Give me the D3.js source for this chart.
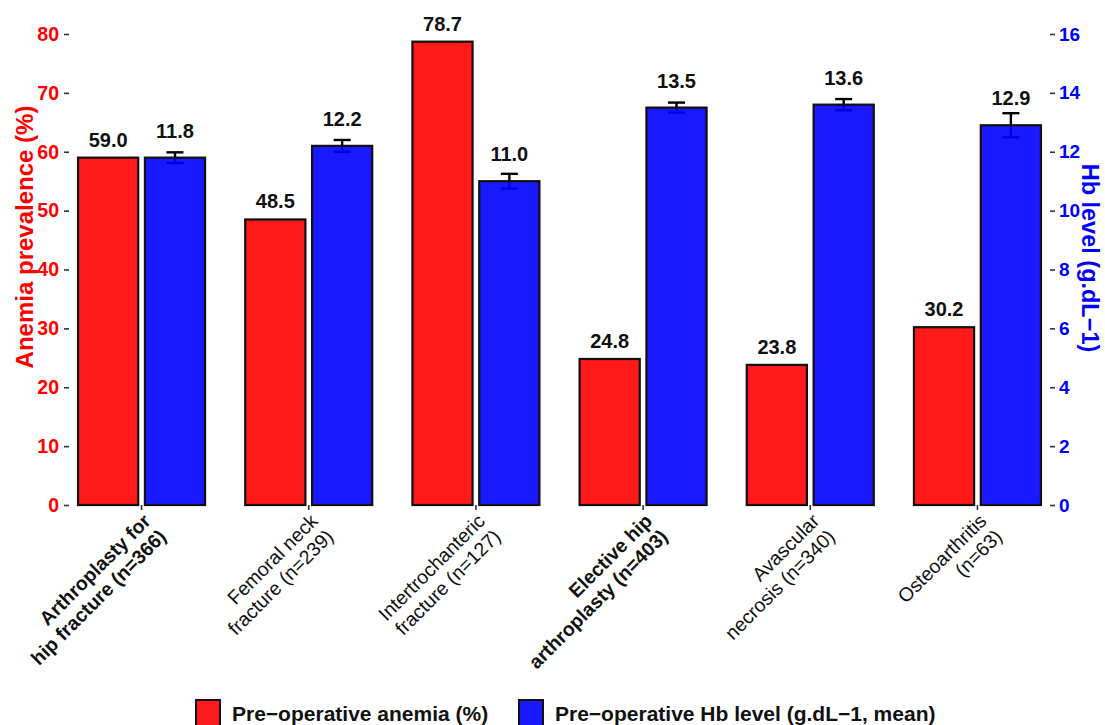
<!DOCTYPE html>
<html>
<head>
<meta charset="utf-8">
<script src="https://cdn.jsdelivr.net/npm/d3@7"></script>
<style>
  html, body { margin: 0; padding: 0; background: #fff; }
  svg { display: block; font-family: "Liberation Sans", Arial, Helvetica, sans-serif; }
</style>
</head>
<body>
<svg id="chart" width="1105" height="725"></svg>
<script>
// Surgical groups (two-line labels; bold = subgroup totals)
const categories = [
  "Arthroplasty for hip fracture (n=366)",
  "Femoral neck fracture (n=239)",
  "Intertrochanteric fracture (n=127)",
  "Elective hip arthroplasty (n=403)",
  "Avascular necrosis (n=340)",
  "Osteoarthritis (n=63)"
];
const categoryLines = [
  ["Arthroplasty for", "hip fracture (n=366)"],
  ["Femoral neck", "fracture (n=239)"],
  ["Intertrochanteric", "fracture (n=127)"],
  ["Elective hip", "arthroplasty (n=403)"],
  ["Avascular", "necrosis (n=340)"],
  ["Osteoarthritis", "(n=63)"]
];
const categoryBold = [true, false, false, true, false, false];

// Pre-operative anemia prevalence (%)
const anemiaPct = [59.0, 48.5, 78.7, 24.8, 23.8, 30.2];
// Pre-operative Hb level (g/dL, mean) and error half-width
const hbMean = [11.8, 12.2, 11.0, 13.5, 13.6, 12.9];
const hbErr = [0.18, 0.2, 0.25, 0.17, 0.19, 0.41];

const leftTicks = [0, 10, 20, 30, 40, 50, 60, 70, 80];
const rightTicks = [0, 2, 4, 6, 8, 10, 12, 14, 16];
const seriesKeys = ["anemia", "hb"];
const seriesNames = ["Pre\u2212operative anemia (%)", "Pre\u2212operative Hb level (g.dL\u22121, mean)"];

const RED = "#FF0000", BLUE = "#0000FF";

const svg = d3.select("#chart");
const panel = { left: 70, right: 1049, top: 34, bottom: 505 };

const x = d3.scalePoint().domain(categories).range([panel.left, panel.right]).padding(0.428);
const sub = d3.scaleBand().domain(seriesKeys).range([-63.5, 63.5]).paddingInner(0.1);
const yL = d3.scaleLinear().domain([0, 80]).range([panel.bottom, panel.top]);
const yR = d3.scaleLinear().domain([0, 16]).range([panel.bottom, panel.top]);

const rows = categories.map((c, i) => ({
  cat: c, i, anemia: anemiaPct[i], hb: hbMean[i], err: hbErr[i]
}));

// Left axis
const gL = svg.append("g")
  .attr("transform", `translate(${panel.left},0)`)
  .call(d3.axisLeft(yL).tickValues(leftTicks).tickSize(5).tickPadding(6));
gL.select(".domain").remove();
gL.selectAll(".tick line").attr("stroke", "#333").attr("stroke-width", 1.6).attr("transform", "translate(-1,0)");
gL.selectAll(".tick text").attr("fill", RED).attr("font-weight", "bold").attr("font-size", 19.5)
  .attr("font-family", "Liberation Sans, Arial, sans-serif");

// Right axis
const gR = svg.append("g")
  .attr("transform", `translate(${panel.right},0)`)
  .call(d3.axisRight(yR).tickValues(rightTicks).tickSize(5).tickPadding(5));
gR.select(".domain").remove();
gR.selectAll(".tick line").attr("stroke", "#333").attr("stroke-width", 1.6).attr("transform", "translate(1,0)");
gR.selectAll(".tick text").attr("fill", BLUE).attr("font-weight", "bold").attr("font-size", 19)
  .attr("font-family", "Liberation Sans, Arial, sans-serif");

// X ticks
svg.append("g").selectAll("line").data(rows).join("line")
  .attr("x1", d => x(d.cat)).attr("x2", d => x(d.cat))
  .attr("y1", panel.bottom).attr("y2", panel.bottom + 5)
  .attr("stroke", "#333").attr("stroke-width", 1.6);

// Error bars (drawn under the translucent Hb bars)
const eb = svg.append("g").attr("stroke", "#000").attr("stroke-width", 2.4);
rows.forEach(d => {
  const cx = x(d.cat) + sub("hb") + sub.bandwidth() / 2;
  const y0 = yR(d.hb - d.err), y1 = yR(d.hb + d.err);
  eb.append("line").attr("x1", cx).attr("x2", cx).attr("y1", y0).attr("y2", y1);
  eb.append("line").attr("x1", cx - 8.5).attr("x2", cx + 8.5).attr("y1", y0).attr("y2", y0);
  eb.append("line").attr("x1", cx - 8.5).attr("x2", cx + 8.5).attr("y1", y1).attr("y2", y1);
});

// Bars
const bars = svg.append("g");
bars.selectAll("rect.anemia").data(rows).join("rect")
  .attr("class", "anemia")
  .attr("x", d => x(d.cat) + sub("anemia"))
  .attr("width", sub.bandwidth())
  .attr("y", d => yL(d.anemia))
  .attr("height", d => yL(0) - yL(d.anemia))
  .attr("fill", RED).attr("fill-opacity", 0.9)
  .attr("stroke", "#111").attr("stroke-width", 2.2);
bars.selectAll("rect.hb").data(rows).join("rect")
  .attr("class", "hb")
  .attr("x", d => x(d.cat) + sub("hb"))
  .attr("width", sub.bandwidth())
  .attr("y", d => yR(d.hb))
  .attr("height", d => yR(0) - yR(d.hb))
  .attr("fill", BLUE).attr("fill-opacity", 0.9)
  .attr("stroke", "#111").attr("stroke-width", 2.2);

// Value labels
const lbl = svg.append("g").attr("font-weight", "bold").attr("font-size", 20)
  .attr("text-anchor", "middle").attr("fill", "#111");
lbl.selectAll("text.a").data(rows).join("text").attr("class", "a")
  .attr("x", d => x(d.cat) + sub("anemia") + sub.bandwidth() / 2)
  .attr("y", d => yL(d.anemia) - 11)
  .text(d => d.anemia.toFixed(1));
lbl.selectAll("text.h").data(rows).join("text").attr("class", "h")
  .attr("x", d => x(d.cat) + sub("hb") + sub.bandwidth() / 2)
  .attr("y", d => yR(d.hb) - 20)
  .text(d => d.hb.toFixed(1));

// Category labels, rotated 45 degrees
const xl = svg.append("g");
rows.forEach(d => {
  const g = xl.append("g").attr("transform", `translate(${x(d.cat)},${panel.bottom + 7}) rotate(-45)`);
  const t = g.append("text").attr("text-anchor", "end").attr("font-size", 19.5)
    .attr("font-weight", categoryBold[d.i] ? "bold" : "normal").attr("fill", "#111");
  categoryLines[d.i].forEach((line, k) => {
    t.append("tspan").attr("x", 0).attr("y", 14.5 + k * 22).text(line);
  });
});

// Axis titles
svg.append("text")
  .attr("transform", `translate(33,237) rotate(-90)`)
  .attr("text-anchor", "middle").attr("font-weight", "bold").attr("font-size", 24)
  .attr("fill", RED).text("Anemia prevalence (%)");
svg.append("text")
  .attr("transform", `translate(1082,258) rotate(90)`)
  .attr("text-anchor", "middle").attr("font-weight", "bold").attr("font-size", 23.5)
  .attr("fill", BLUE).text("Hb level (g.dL\u22121)");

// Legend
const legendX = [196, 519];
const legendColors = [RED, BLUE];
const lg = svg.append("g");
seriesNames.forEach((name, i) => {
  lg.append("rect").attr("x", legendX[i]).attr("y", 700).attr("width", 24).attr("height", 26)
    .attr("fill", legendColors[i]).attr("fill-opacity", 0.9)
    .attr("stroke", "#111").attr("stroke-width", 2);
  lg.append("text").attr("x", legendX[i] + 36).attr("y", 721)
    .attr("font-weight", "bold").attr("font-size", 21).attr("fill", "#111").text(name);
});
</script>
</body>
</html>
